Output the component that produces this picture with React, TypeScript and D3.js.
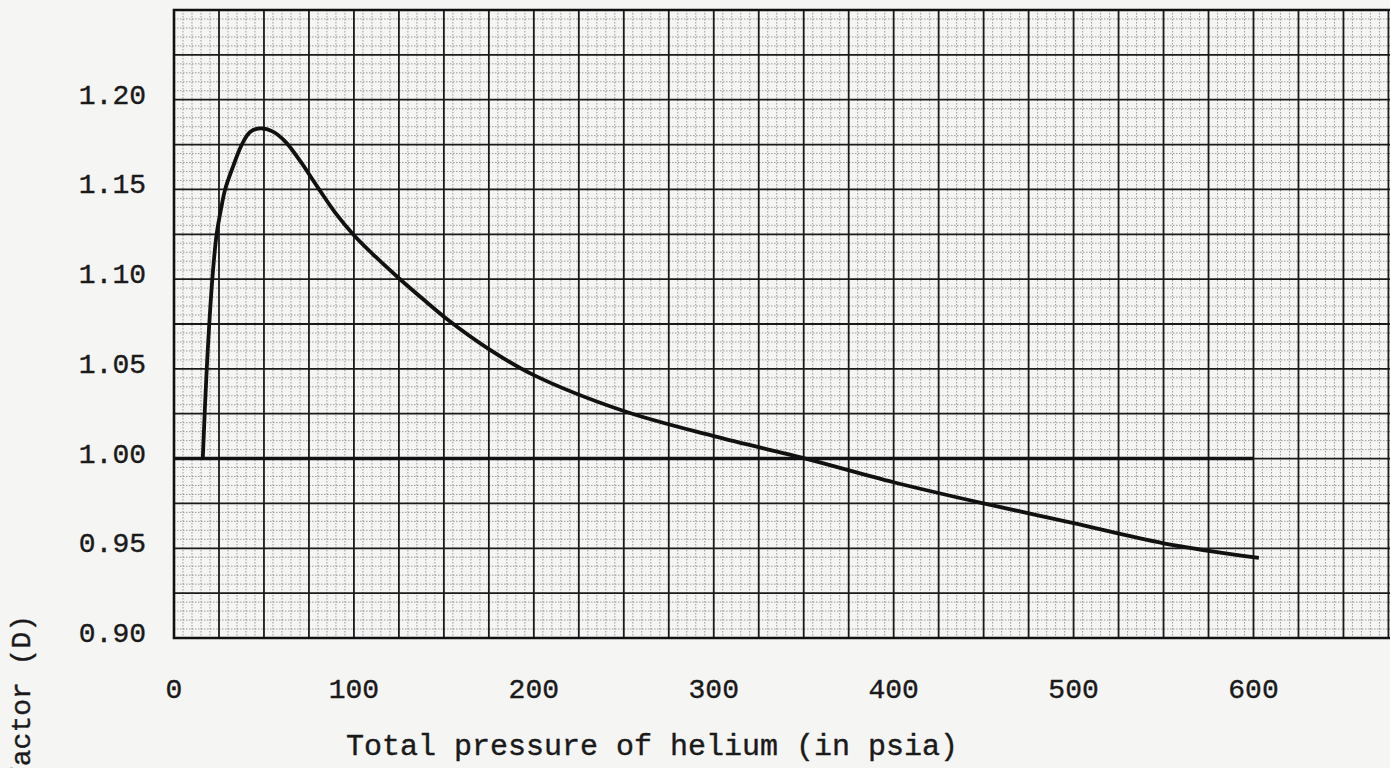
import React, { useEffect, useRef } from "react";
import * as d3 from "d3";

// valeurs
const pressure = [16, 18.2, 21.3, 23.7, 26.5, 28.4, 32.9, 37.7, 42.3, 48, 55, 62, 70, 80, 90, 100, 112, 125, 140, 152, 175, 200, 250, 300, 351, 400, 450, 500, 550, 603];
const factor = [1.0, 1.05, 1.1, 1.125, 1.141, 1.15, 1.163, 1.175, 1.182, 1.184, 1.1822, 1.1765, 1.166, 1.151, 1.1365, 1.1245, 1.1125, 1.1005, 1.0875, 1.0775, 1.061, 1.0465, 1.0265, 1.0125, 1.0, 0.9868, 0.975, 0.964, 0.9528, 0.9446];

const refPressure = [0, 600];
const refFactor = [1.0, 1.0];

const xTicks = [0, 100, 200, 300, 400, 500, 600];
const yTicks = [0.9, 0.95, 1.0, 1.05, 1.1, 1.15, 1.2];

const xTitle = "Total pressure of helium (in psia)";
const yTitle = "Correction factor (D)";

const W = 1390;
const H = 768;

const App = () => {
  const ref = useRef<SVGSVGElement | null>(null);

  useEffect(() => {
    const svg = d3.select(ref.current);
    svg.selectAll("*").remove();

    const x = d3.scaleLinear().domain([0, 600]).range([174, 1253.5]);
    const y = d3.scaleLinear().domain([0.9, 1.25]).range([638, 10]);
    const font = "'Liberation Mono', 'DejaVu Sans Mono', monospace";

    svg.append("rect").attr("width", W).attr("height", H).attr("fill", "#f5f5f4");

    const left = x(0);
    const right = W;
    const top = y(1.25);
    const bottom = y(0.9);

    // papier millimétré : lignes fines pointillées
    const g = svg.append("g");
    const xMax = x.invert(right);
    const minorX = d3.range(0, xMax + 0.01, 5).filter((v) => v % 25 !== 0);
    const minorY = d3.range(0, 70).map((i) => 0.9 + i * 0.005).filter((_, i) => i % 5 !== 0);
    g.selectAll(".mx").data(minorX).enter().append("line")
      .attr("x1", (d) => x(d)).attr("x2", (d) => x(d)).attr("y1", top).attr("y2", bottom)
      .attr("stroke", "#555").attr("stroke-width", 1).attr("stroke-dasharray", "1.5,1.5").attr("opacity", 0.55);
    g.selectAll(".my").data(minorY).enter().append("line")
      .attr("x1", left).attr("x2", right).attr("y1", (d) => y(d)).attr("y2", (d) => y(d))
      .attr("stroke", "#555").attr("stroke-width", 1).attr("stroke-dasharray", "1.5,1.5").attr("opacity", 0.55);

    // lignes principales
    const majorX = d3.range(25, xMax + 0.01, 25);
    const majorY = d3.range(1, 14).map((i) => 0.9 + i * 0.025);
    g.selectAll(".Mx").data(majorX).enter().append("line")
      .attr("x1", (d) => x(d)).attr("x2", (d) => x(d)).attr("y1", top).attr("y2", bottom)
      .attr("stroke", "#1a1a1a").attr("stroke-width", 1.8);
    g.selectAll(".My").data(majorY).enter().append("line")
      .attr("x1", left).attr("x2", right).attr("y1", (d) => y(d)).attr("y2", (d) => y(d))
      .attr("stroke", "#1a1a1a").attr("stroke-width", 1.8);

    // cadre
    g.append("path")
      .attr("d", `M${right},${top}H${left}V${bottom}H${right}`)
      .attr("fill", "none").attr("stroke", "#111").attr("stroke-width", 2.6);

    const line = d3.line<[number, number]>()
      .x((d) => x(d[0])).y((d) => y(d[1]));

    svg.append("path")
      .datum(refPressure.map((p, i) => [p, refFactor[i]] as [number, number]))
      .attr("d", line)
      .attr("fill", "none").attr("stroke", "#111").attr("stroke-width", 3.6);

    svg.append("path")
      .datum(pressure.map((p, i) => [p, factor[i]] as [number, number]))
      .attr("d", line.curve(d3.curveCatmullRom.alpha(0.5)))
      .attr("fill", "none").attr("stroke", "#111").attr("stroke-width", 3.8)
      .attr("stroke-linejoin", "round");

    // étiquettes
    svg.append("g").selectAll("text").data(yTicks).enter().append("text")
      .attr("x", 146).attr("y", (d) => y(d) + 4)
      .attr("text-anchor", "end").attr("font-family", font).attr("font-size", 28)
      .attr("fill", "#1a1a1a").attr("stroke", "#1a1a1a").attr("stroke-width", 0.4)
      .text((d) => d3.format(".2f")(d));

    svg.append("g").selectAll("text").data(xTicks).enter().append("text")
      .attr("x", (d) => x(d)).attr("y", 698)
      .attr("text-anchor", "middle").attr("font-family", font).attr("font-size", 28)
      .attr("fill", "#1a1a1a").attr("stroke", "#1a1a1a").attr("stroke-width", 0.4)
      .text((d) => d);

    svg.append("text")
      .attr("x", 652).attr("y", 755)
      .attr("text-anchor", "middle").attr("font-family", font).attr("font-size", 30)
      .attr("fill", "#1a1a1a").attr("stroke", "#1a1a1a").attr("stroke-width", 0.4)
      .text(xTitle);

    svg.append("text")
      .attr("transform", "translate(30,615) rotate(-90)")
      .attr("text-anchor", "end").attr("font-family", font).attr("font-size", 28)
      .attr("fill", "#1a1a1a").attr("stroke", "#1a1a1a").attr("stroke-width", 0.4)
      .text(yTitle);
  }, []);

  return (
    <svg ref={ref} width={W} height={H}
      style={{ position: "absolute", left: 0, top: 0, display: "block" }} />
  );
};

export default App;
